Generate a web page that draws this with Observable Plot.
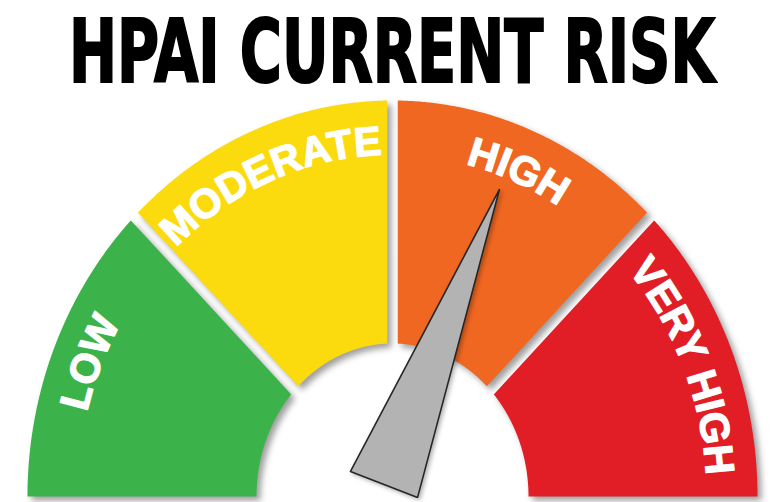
<!DOCTYPE html>
<html><head><meta charset="utf-8">
<script src="https://cdn.jsdelivr.net/npm/d3@7"></script>
<script src="https://cdn.jsdelivr.net/npm/@observablehq/plot@0.6"></script>
<style>
html,body{margin:0;padding:0;background:#fff;}
body{width:779px;height:502px;overflow:hidden;}
#title{position:relative;height:95px;width:779px;}
#title span{position:absolute;left:69px;top:8px;font-family:"DejaVu Sans",sans-serif;font-weight:bold;font-size:88px;line-height:1;white-space:nowrap;color:#000;-webkit-text-stroke:2.2px #000;transform-origin:0 0;}
#chart svg{display:block;}
</style></head><body>
<div id="title"><span id="t"></span></div>
<div id="chart"></div>
<script>
// ---- data ----
const titleText = "HPAI CURRENT RISK";
const categories = ["LOW", "MODERATE", "HIGH", "VERY HIGH"];
const colors = ["#3BB34A", "#FCDB0E", "#F06722", "#E11D26"];
const riskValue = 2.46; // needle reading on a 0–4 scale (inside HIGH)

// ---- title ----
const t = document.getElementById("t");
t.textContent = titleText;
const tw = t.getBoundingClientRect().width;
t.style.transform = `scaleX(${646 / tw})`;

// ---- geometry (gauge units = px, origin at gauge centre, y up) ----
const RX = 365, RY = 396;      // outer ellipse
const IRX = 136, IRY = 153;    // inner ellipse
const GAP = 5.25;              // half gap between segments
const LABEL_R = 0.862;         // label baseline, fraction of outer ellipse
const NEEDLE_R = 0.83;
const pivot = [-8.5, 12];
const halfBase = 36;

const angle = d3.scaleLinear().domain([0, categories.length]).range([0, 180]);
const rad = a => a * Math.PI / 180;
const ell = (a, rx, ry) => [-rx * Math.cos(rad(a)), ry * Math.sin(rad(a))];
const dir = a => { const p = ell(a, RX, RY); const l = Math.hypot(p[0], p[1]); return [p[0] / l, p[1] / l]; };

function clip(poly, f) {
  const out = [];
  for (let i = 0; i < poly.length; i++) {
    const a = poly[i], b = poly[(i + 1) % poly.length];
    const fa = f(a), fb = f(b);
    if (fa >= 0) out.push(a);
    if ((fa >= 0) !== (fb >= 0)) {
      const k = fa / (fa - fb);
      out.push([a[0] + k * (b[0] - a[0]), a[1] + k * (b[1] - a[1])]);
    }
  }
  return out;
}

function segmentPoly(i) {
  const a0 = angle(i), a1 = angle(i + 1);
  const N = 160;
  let poly = [];
  for (let k = 0; k <= N; k++) poly.push(ell(a0 + (a1 - a0) * k / N, RX, RY));
  for (let k = N; k >= 0; k--) poly.push(ell(a0 + (a1 - a0) * k / N, IRX, IRY));
  if (a0 > 0) { const u = dir(a0); poly = clip(poly, p => -(u[0] * p[1] - u[1] * p[0]) - GAP); }
  if (a1 < 180) { const u = dir(a1); poly = clip(poly, p => (u[0] * p[1] - u[1] * p[0]) - GAP); }
  poly.push(poly[0]);
  return poly;
}

// needle
const tip = ell(angle(riskValue), RX * NEEDLE_R, RY * NEEDLE_R);
const ax = [tip[0] - pivot[0], tip[1] - pivot[1]];
const al = Math.hypot(ax[0], ax[1]);
const perp = [ax[1] / al, -ax[0] / al];
const needle = [
  [pivot[0] - halfBase * perp[0], pivot[1] - halfBase * perp[1]],
  tip,
  [pivot[0] + halfBase * perp[0], pivot[1] + halfBase * perp[1]],
];
needle.push(needle[0]);

// curved labels via textPath, positioned through Plot's scales
function arcLabels(index, scales) {
  const g = d3.create("svg:g");
  categories.forEach((c, i) => {
    const a0 = angle(i), a1 = angle(i + 1), N = 80;
    const pts = d3.range(N + 1).map(k => {
      const p = ell(a0 + (a1 - a0) * k / N, RX * LABEL_R, RY * LABEL_R);
      return [scales.x(p[0]), scales.y(p[1])];
    });
    g.append("path").attr("id", "lab" + i).attr("d", d3.line()(pts)).attr("fill", "none");
    g.append("text")
      .attr("fill", "#fff")
      .attr("stroke", "#fff")
      .attr("stroke-width", 1.3)
      .attr("stroke-linejoin", "round")
      .attr("font-family", "'Liberation Sans', Arial, sans-serif")
      .attr("font-weight", "bold")
      .attr("font-size", 41)
      .append("textPath")
      .attr("href", "#lab" + i)
      .attr("startOffset", "50%")
      .attr("text-anchor", "middle")
      .text(c);
  });
  return g.node();
}

const shadow = "drop-shadow(4px 4px 3px rgba(0,0,0,0.38))";

const chart = Plot.plot({
  width: 779,
  height: 407,
  margin: 0,
  x: {domain: [-392, 387], axis: null},
  y: {domain: [-6, 401], axis: null},
  marks: [
    ...categories.map((c, i) => Plot.line(segmentPoly(i), {
      x: d => d[0], y: d => d[1], fill: colors[i], stroke: "none", curve: "linear",
      imageFilter: shadow
    })),
    arcLabels,
    Plot.line(needle, {
      x: d => d[0], y: d => d[1], fill: "#B3B3B3", stroke: "#262626", strokeWidth: 1.6,
      strokeLinejoin: "miter", curve: "linear",
      imageFilter: "drop-shadow(2px 2px 2px rgba(0,0,0,0.3))"
    })
  ]
});
document.getElementById("chart").appendChild(chart);
</script>
</body></html>
